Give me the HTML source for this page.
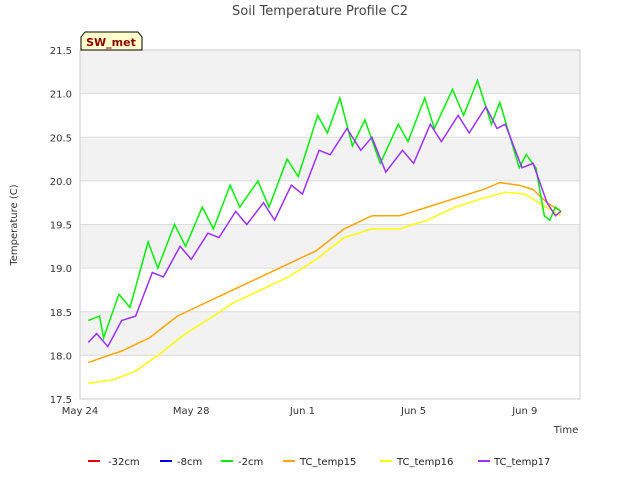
<!DOCTYPE html>
<html><head><meta charset="utf-8"><style>body{margin:0;background:#fff}svg{font-family:"DejaVu Sans","Liberation Sans",sans-serif}</style></head>
<body>
<svg id="c" width="640" height="480" xmlns="http://www.w3.org/2000/svg"></svg>
<script>
const yTicks=[17.5,18.0,18.5,19.0,19.5,20.0,20.5,21.0,21.5];
const xTickDays=[0,4,8,12,16];
const xTickLabels=["May 24","May 28","Jun 1","Jun 5","Jun 9"];
const greenDays=[0.3,0.7,0.85,1.4,1.8,2.45,2.8,3.4,3.8,4.4,4.8,5.4,5.75,6.4,6.8,7.45,7.85,8.55,8.9,9.35,9.8,10.25,10.8,11.45,11.8,12.4,12.75,13.4,13.8,14.3,14.8,15.1,15.8,16.05,16.4,16.7,16.9,17.1,17.3];
const greenVals=[18.4,18.45,18.2,18.7,18.55,19.3,19.0,19.5,19.25,19.7,19.45,19.95,19.7,20.0,19.7,20.25,20.05,20.75,20.55,20.95,20.4,20.7,20.2,20.65,20.45,20.95,20.6,21.05,20.75,21.15,20.65,20.9,20.15,20.3,20.15,19.6,19.55,19.7,19.65];
const purpleDays=[0.3,0.6,1.0,1.5,2.0,2.6,3.0,3.6,4.0,4.6,5.0,5.6,6.0,6.6,7.0,7.6,8.0,8.6,9.0,9.6,10.1,10.5,11.0,11.6,12.0,12.6,13.0,13.6,14.0,14.6,15.0,15.3,15.9,16.3,16.8,17.1,17.3];
const purpleVals=[18.15,18.25,18.1,18.4,18.45,18.95,18.9,19.25,19.1,19.4,19.35,19.65,19.5,19.75,19.55,19.95,19.85,20.35,20.3,20.6,20.35,20.5,20.1,20.35,20.2,20.65,20.45,20.75,20.55,20.85,20.6,20.65,20.15,20.2,19.75,19.6,19.65];
const orangeDays=[0.3,1.5,2.5,3.5,4.5,5.5,6.5,7.5,8.5,9.5,10.5,11.5,12.5,13.5,14.5,15.1,15.8,16.3,16.8,17.3];
const orangeVals=[17.92,18.05,18.2,18.45,18.6,18.75,18.9,19.05,19.2,19.45,19.6,19.6,19.7,19.8,19.9,19.98,19.95,19.9,19.75,19.65];
const yellowDays=[0.3,1.2,2.0,2.8,3.8,4.8,5.5,6.5,7.5,8.5,9.5,10.5,11.5,12.5,13.5,14.5,15.3,16.0,16.5,17.3];
const yellowVals=[17.68,17.72,17.82,18.0,18.25,18.45,18.6,18.75,18.9,19.1,19.35,19.45,19.45,19.55,19.7,19.8,19.87,19.85,19.75,19.6];
const L=80,R=580,T=50,B=399;
const X=d=>L+d*27.8;
const Y=v=>B-(v-17.5)*(B-T)/4;
const svg=document.getElementById('c');const NS="http://www.w3.org/2000/svg";
function mk(t,a,p){const e=document.createElementNS(NS,t);for(const k in a)e.setAttribute(k,a[k]);(p||svg).appendChild(e);return e;}
for(let i=0;i<yTicks.length-1;i++){const r=mk('rect',{x:L,y:Y(yTicks[i+1]),width:R-L,height:Y(yTicks[i])-Y(yTicks[i+1]),fill:(i%2==1)?'#f2f2f2':'#fff'});

}
yTicks.forEach(v=>{const l=mk('line',{x1:L,x2:R,y1:Y(v),y2:Y(v),stroke:'#dcdcdc'});


const t=mk('text',{x:L-8,y:Y(v)+4,'text-anchor':'end','font-size':10,fill:'#333'});t.textContent=v.toFixed(1);

});
xTickDays.forEach((d,i)=>{const t=mk('text',{x:X(d),y:414,'text-anchor':'middle','font-size':10,fill:'#333'});t.textContent=xTickLabels[i];

});
const fr=mk('rect',{x:L,y:T,width:R-L,height:B-T,fill:'none',stroke:'#ccc'});


function series(days,vals,col,name){const pts=days.map((d,i)=>X(d).toFixed(1)+','+Y(vals[i]).toFixed(1)).join(' ');
const p=mk('polyline',{points:pts,fill:'none',stroke:col,'stroke-width':1.5});

}
series(yellowDays,yellowVals,'#ffff00','series-tc-temp16');
series(orangeDays,orangeVals,'#ffa500','series-tc-temp15');
series(greenDays,greenVals,'#00ee00','series-2cm');
series(purpleDays,purpleVals,'#9b30ff','series-tc-temp17');
</script>
<svg style="position:absolute;left:0;top:0" width="640" height="480" xmlns="http://www.w3.org/2000/svg">
<text x="320" y="15" text-anchor="middle" font-size="13" fill="#444">Soil Temperature Profile C2</text>
<text transform="translate(17,225) rotate(-90)" text-anchor="middle" font-size="10" fill="#333">Temperature (C)</text>
<text x="566" y="433" text-anchor="middle" font-size="10" fill="#333">Time</text>
<g><path d="M81,50 L81,37 L85,32 L138,32 L142,37 L142,50 Z" fill="#ffffcc" stroke="#000"/><text x="111" y="46" text-anchor="middle" font-size="11" font-weight="bold" fill="#8b0000">SW_met</text></g>
<g font-size="10" fill="#222">
<line x1="88" x2="100" y1="461" y2="461" stroke="#ee0000" stroke-width="2"/><text x="108" y="465">-32cm</text>
<line x1="160" x2="172" y1="461" y2="461" stroke="#0000ee" stroke-width="2"/><text x="177" y="465">-8cm</text>
<line x1="221" x2="233" y1="461" y2="461" stroke="#00ee00" stroke-width="2"/><text x="238" y="465">-2cm</text>
<line x1="283" x2="295" y1="461" y2="461" stroke="#ffa500" stroke-width="2"/><text x="300" y="465">TC_temp15</text>
<line x1="380" x2="392" y1="461" y2="461" stroke="#ffff00" stroke-width="2"/><text x="397" y="465">TC_temp16</text>
<line x1="478" x2="490" y1="461" y2="461" stroke="#9b30ff" stroke-width="2"/><text x="494" y="465">TC_temp17</text>
</g></svg>
</body></html>
